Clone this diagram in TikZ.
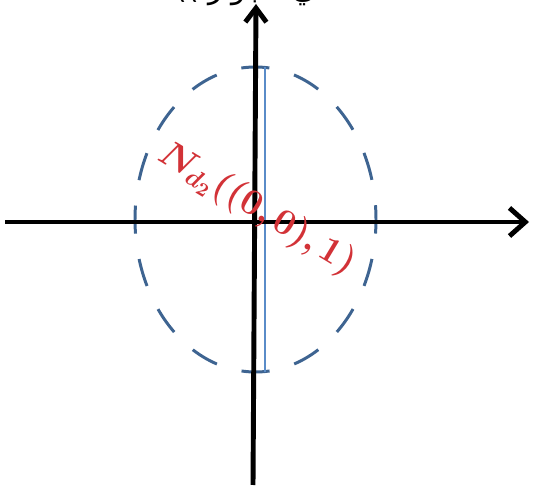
\documentclass[tikz,border=0pt]{standalone}
\usepackage{amsmath,bm}
\usepackage{fontspec}
\usetikzlibrary{arrows.meta}
\newfontfamily\arabicfont[Script=Arabic]{DejaVu Sans}
\definecolor{dashblue}{RGB}{62,100,145}
\definecolor{lineblue}{RGB}{90,140,200}
\definecolor{labelred}{RGB}{210,50,55}
\newcommand{\nbhdlabel}{$\bm{N_{d_2}((0,0),1)}$}
\tikzset{
  axis/.style={line width=2.8pt},
  nbhdtext/.style={text=labelred,font=\fontsize{22}{26}\selectfont,rotate=-31}
}

\begin{document}
\begin{tikzpicture}[x=0.02cm,y=-0.02cm]
    \useasboundingbox (0,0) rectangle (534,492);
    \coordinate (o) at (255.5,219.5);
    \coordinate (xl) at (5,222);
    \coordinate (xr) at (529,222);
    \coordinate (yb) at (253,485);
    \coordinate (yt) at (256,4);
    \coordinate (et) at (265,67);
    \coordinate (eb) at (265,372);
    \draw[dashblue,line width=1.7pt,dash pattern=on 16pt off 14.61pt,dash phase=8pt] (o) ellipse [x radius=120.5,y radius=152.5];
    \draw[lineblue,line width=0.7pt] (et)--(eb);
    \draw[axis,-{Straight Barb[length=9pt,width=16pt]}] (xl)--(xr);
    \draw[axis,-{Straight Barb[length=8pt,width=12pt]}] (yb)--(yt);
    \node[nbhdtext] (nbhd) at (257,209) {\nbhdlabel};
    \begin{scope}
      \clip (0,0) rectangle (534,492);
      \node[anchor=base,inner sep=0pt,font=\arabicfont\fontsize{17}{20}\selectfont] (title) at (254,-1) {\TeXXeTstate=1 \beginR في الجوار ))\endR};
    \end{scope}
  \end{tikzpicture}
\end{document}
